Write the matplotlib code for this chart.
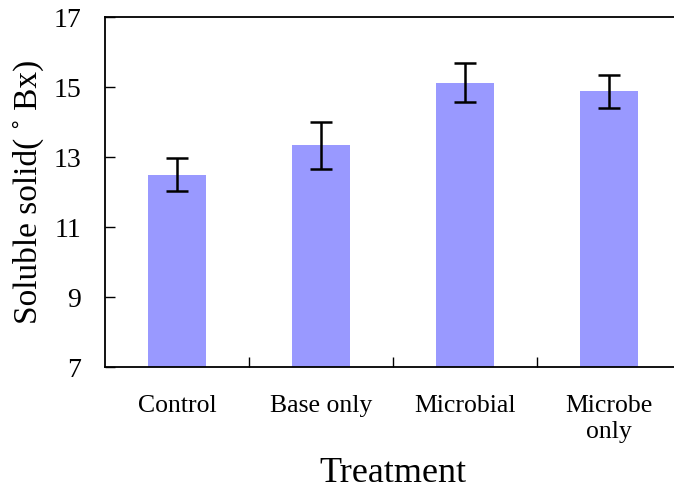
import matplotlib.pyplot as plt
import numpy as np

treatments = ["Control", "Base only", "Microbial", "Microbe\nonly"]
soluble_solid = [12.5, 13.33, 15.12, 14.88]
errors = [0.47, 0.66, 0.56, 0.47]
y_ticks = [7, 9, 11, 13, 15, 17]

plt.rcParams["font.family"] = ["Liberation Serif", "DejaVu Serif"]

fig = plt.figure(figsize=(6.74, 4.92), dpi=100)
ax = fig.add_axes([105 / 674, 1 - 367 / 492, 576 / 674, 350 / 492])

x = np.arange(len(treatments))
ax.bar(x, soluble_solid, width=0.4, color="#9999ff", zorder=2)
ax.errorbar(x, soluble_solid, yerr=errors, fmt="none", ecolor="black",
            elinewidth=1.8, capsize=8, capthick=1.8, zorder=3)

ax.set_xlim(-0.5, 3.5)
ax.set_ylim(7, 17)
ax.set_yticks(y_ticks)
ax.set_yticklabels([str(t) for t in y_ticks], fontsize=20)

# category boundary ticks on the x axis, labels centred under the bars
ax.set_xticks([0.5, 1.5, 2.5])
ax.set_xticklabels([])
ax.set_xticks(x, minor=True)
ax.set_xticklabels(treatments, minor=True, fontsize=18.5, linespacing=1.25)
ax.tick_params(axis="x", which="minor", length=0, pad=20)
ax.tick_params(axis="x", which="major", direction="in", length=7, width=1)
ax.tick_params(axis="y", direction="in", length=7, width=1, pad=17)

for s in ["left", "bottom", "top"]:
    ax.spines[s].set_linewidth(1.3)
ax.spines["right"].set_visible(False)

ax.set_ylabel("Soluble solid( ˚ Bx)", fontsize=24, labelpad=7)
ax.set_xlabel("Treatment", fontsize=26, labelpad=10)

fig.savefig("out.png", dpi=100)
